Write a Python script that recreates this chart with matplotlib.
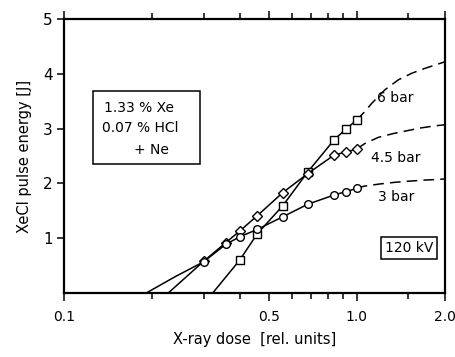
import numpy as np
import matplotlib
matplotlib.use("Agg")
import matplotlib.pyplot as plt
from matplotlib.ticker import FixedLocator, NullFormatter

plt.rcParams['font.family'] = ['DejaVu Sans']

# measured series (X-ray dose, pulse energy)
x3 = [0.30, 0.357, 0.40, 0.457, 0.558, 0.68, 0.838, 0.918, 1.0]
y3 = [0.57, 0.89, 1.03, 1.16, 1.39, 1.62, 1.79, 1.85, 1.91]
x45 = [0.30, 0.357, 0.40, 0.457, 0.558, 0.68, 0.838, 0.918, 1.0]
y45 = [0.58, 0.92, 1.14, 1.41, 1.83, 2.18, 2.52, 2.57, 2.63]
x6 = [0.398, 0.457, 0.558, 0.68, 0.838, 0.918, 1.0]
y6 = [0.60, 1.08, 1.59, 2.21, 2.80, 2.99, 3.16]

# solid fit extensions down to zero energy
ext3_x = [0.191, 0.24, 0.30]
ext3_y = [0.0, 0.30, 0.57]
ext45_x = [0.227, 0.30]
ext45_y = [0.0, 0.58]
ext6_x = [0.322, 0.398]
ext6_y = [0.0, 0.60]

# dashed extrapolations
d6_x = [1.0, 1.06, 1.124, 1.248, 1.386, 1.54, 1.71, 1.924, 2.0]
d6_y = [3.16, 3.30, 3.46, 3.71, 3.89, 4.01, 4.10, 4.19, 4.22]
d45_x = [1.0, 1.067, 1.184, 1.333, 1.48, 1.644, 1.849, 2.0]
d45_y = [2.63, 2.73, 2.84, 2.91, 2.96, 3.01, 3.05, 3.07]
d3_x = [1.0, 1.06, 1.2, 1.35, 1.5, 1.7, 1.85, 2.0]
d3_y = [1.91, 1.95, 1.99, 2.02, 2.04, 2.06, 2.07, 2.08]

xmajor = [0.1, 0.5, 1.0, 2.0]
xmajor_labels = ["0.1", "0.5", "1.0", "2.0"]
xminor = [0.2, 0.3, 0.4, 0.6, 0.7, 0.8, 0.9, 1.5]
yticks = [1, 2, 3, 4, 5]

fig = plt.figure(figsize=(4.56, 3.57), dpi=100)
ax = fig.add_axes([64/456, 1-293/357, (445-64)/456, (293-19)/357])
ax.set_xscale('log')
ax.set_xlim(0.1, 2.0)
ax.set_ylim(0, 5)

lw = 1.1
dash = (0, (7, 4))
mk = dict(markerfacecolor='white', markeredgecolor='black', markeredgewidth=1.0, color='black', lw=lw)
ax.plot(ext3_x, ext3_y, color='black', lw=lw)
ax.plot(ext45_x, ext45_y, color='black', lw=lw)
ax.plot(ext6_x, ext6_y, color='black', lw=lw)
ax.plot(d6_x, d6_y, color='black', lw=lw, ls=dash)
ax.plot(d45_x, d45_y, color='black', lw=lw, ls=dash)
ax.plot(d3_x, d3_y, color='black', lw=lw, ls=dash)
ax.plot(x6, y6, marker='s', markersize=5.5, **mk)
ax.plot(x45, y45, marker='D', markersize=5.0, **mk)
ax.plot(x3, y3, marker='o', markersize=5.5, **mk)

ax.xaxis.set_major_locator(FixedLocator(xmajor))
ax.set_xticklabels(xmajor_labels)
ax.xaxis.set_minor_locator(FixedLocator(xminor))
ax.xaxis.set_minor_formatter(NullFormatter())
ax.set_yticks(yticks)
ax.tick_params(axis='x', which='both', direction='out', top=True, bottom=True,
               labelsize=10, width=1.1, pad=6)
ax.tick_params(axis='x', which='major', length=6)
ax.tick_params(axis='x', which='minor', length=4)
ax.tick_params(axis='y', direction='out', left=True, right=False, length=5,
               width=1.1, labelsize=11, pad=3)
for s in ax.spines.values():
    s.set_linewidth(1.6)

ax.set_xlabel("X-ray dose  [rel. units]", fontsize=10.5, labelpad=6)
ax.set_ylabel("XeCl pulse energy [J]", fontsize=10.5, labelpad=8)

ax.text(1.17, 3.55, "6 bar", fontsize=10, va='center', ha='left')
ax.text(1.12, 2.47, "4.5 bar", fontsize=10, va='center', ha='left')
ax.text(1.18, 1.75, "3 bar", fontsize=10, va='center', ha='left')

ax.text((409-64)/381, (293-248)/274, "120 kV", transform=ax.transAxes, fontsize=10,
        ha='center', va='center',
        bbox=dict(boxstyle='square,pad=0.3', facecolor='white', edgecolor='black', lw=1.1))

fig.patches.append(plt.Rectangle((93/456, 1-164/357), 107/456, 73/357,
                                 transform=fig.transFigure, fill=False,
                                 edgecolor='black', lw=1.1))
fig.text(104/456, 1-108/357, "1.33 % Xe", fontsize=10, va='center', ha='left')
fig.text(102/456, 1-128/357, "0.07 % HCl", fontsize=10, va='center', ha='left')
fig.text(134/456, 1-150/357, "+ Ne", fontsize=10, va='center', ha='left')

fig.savefig("out.png", dpi=100)
